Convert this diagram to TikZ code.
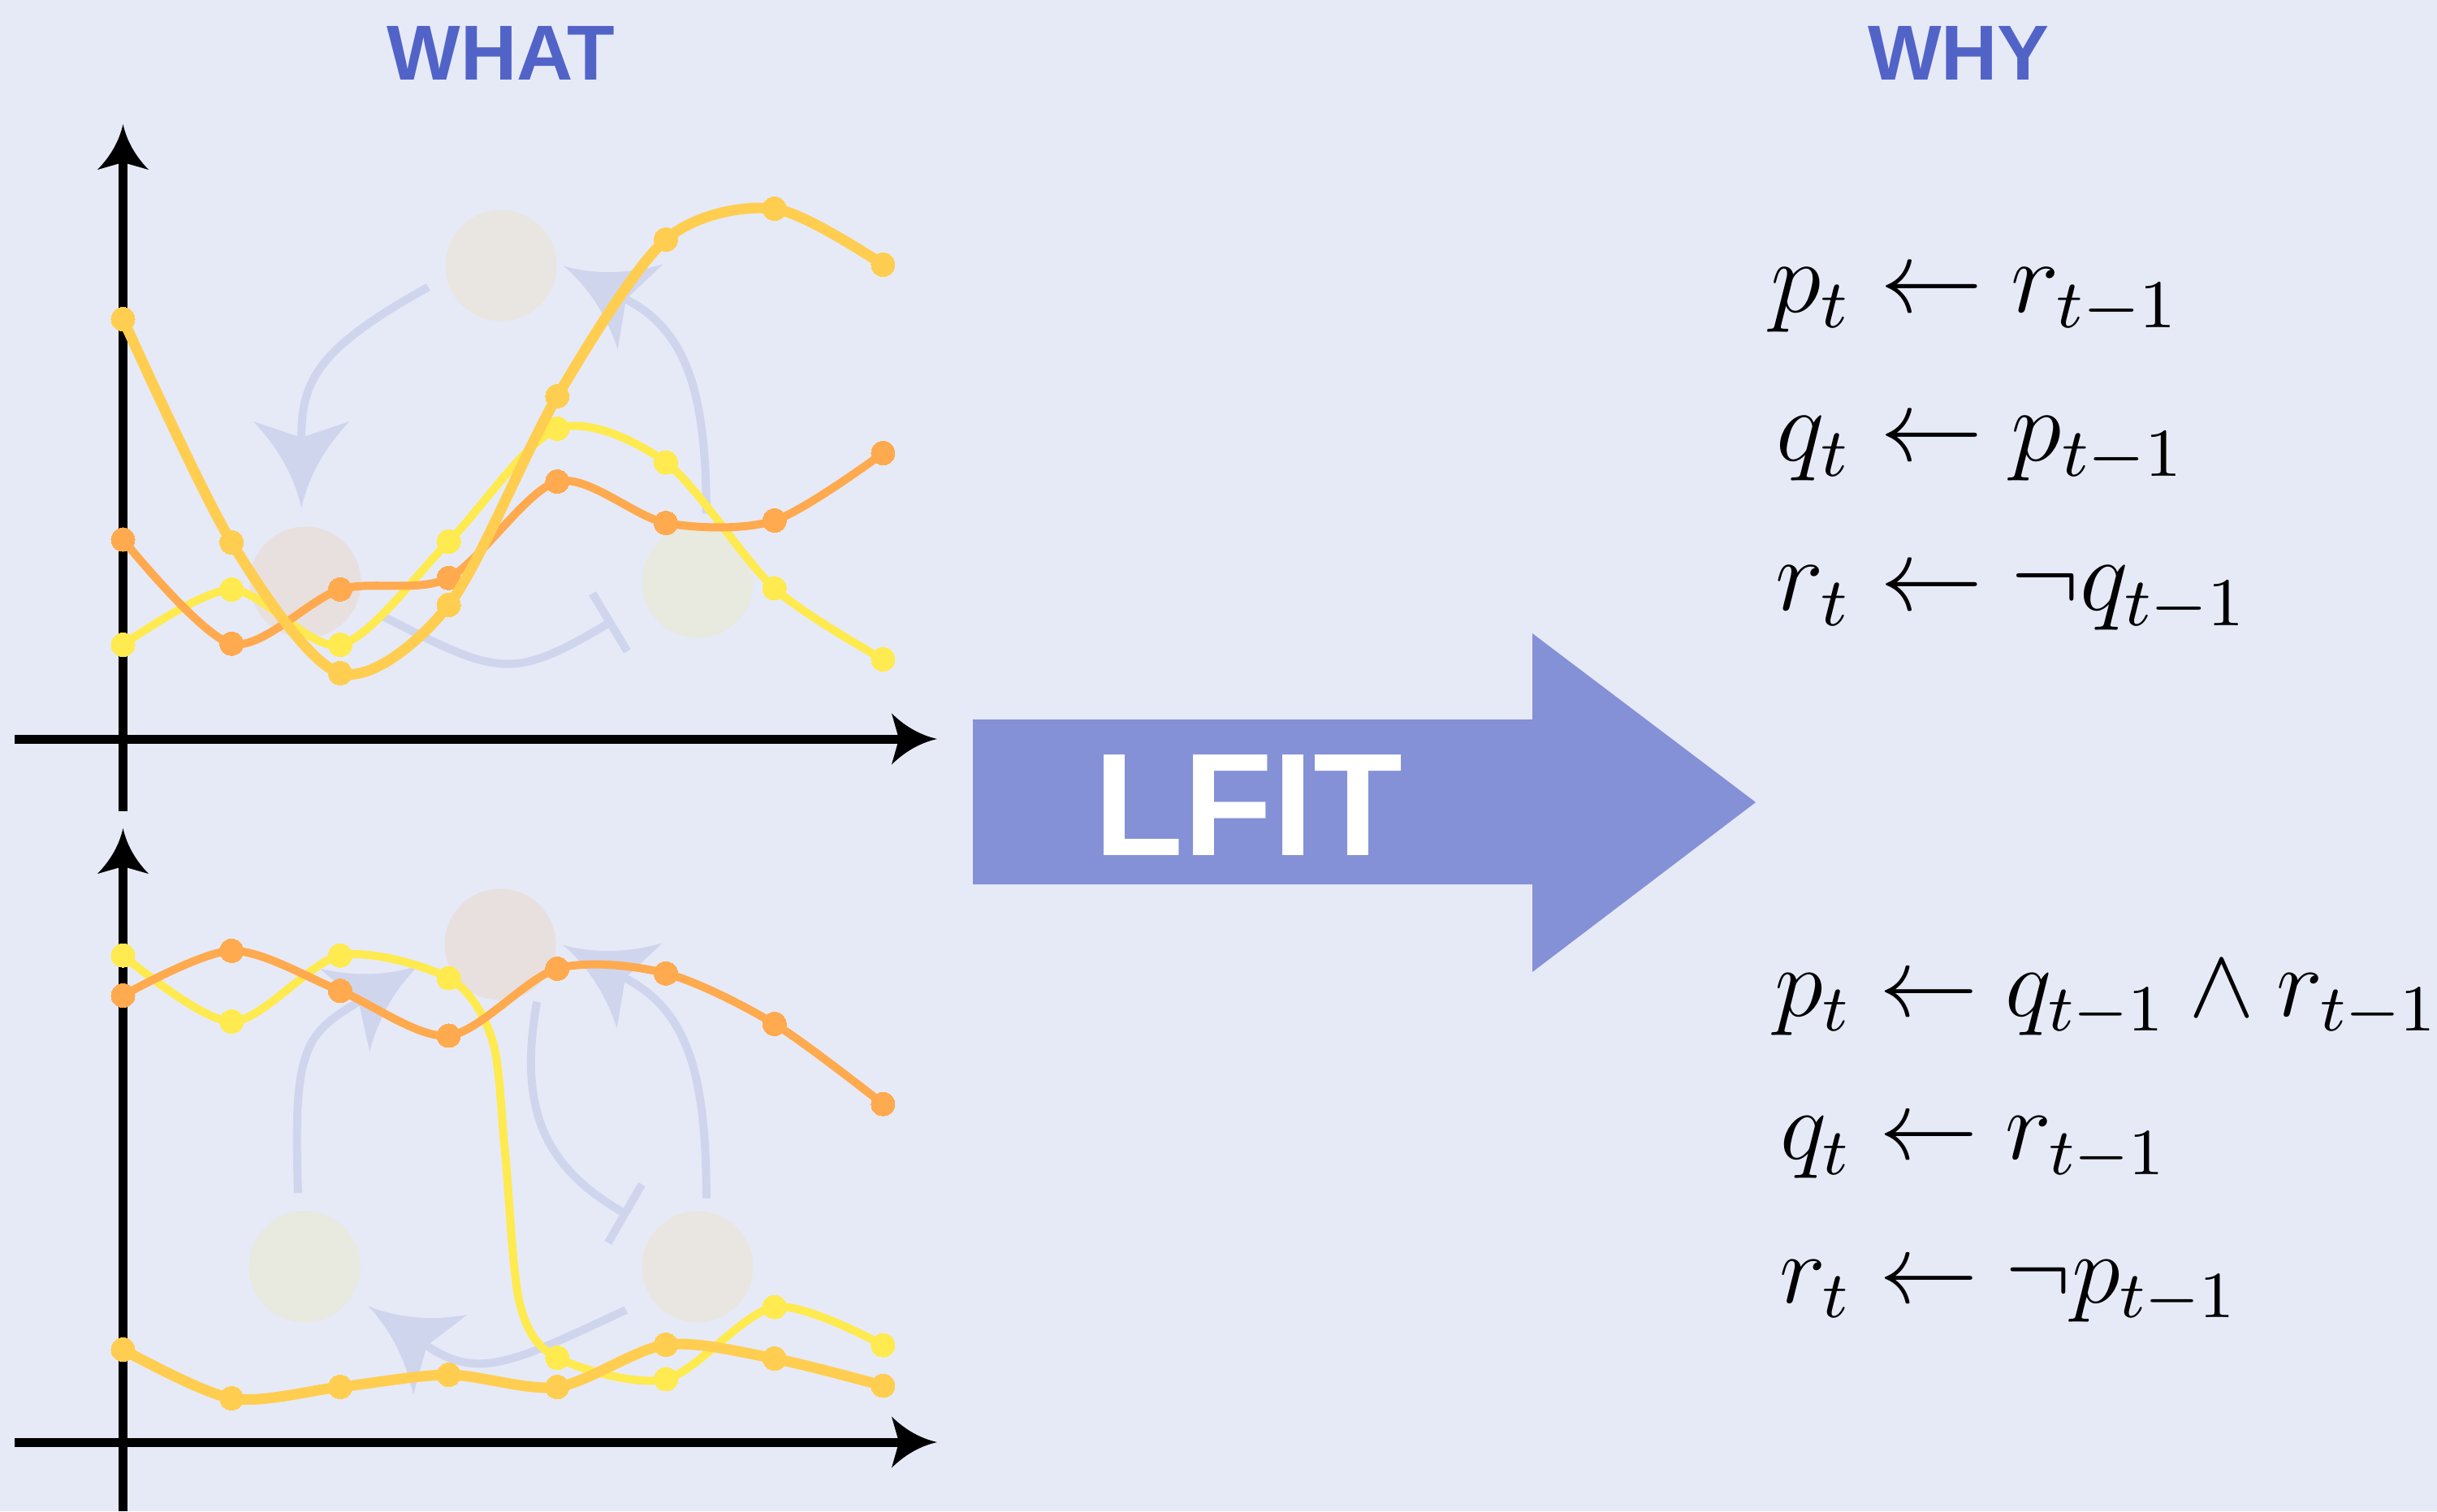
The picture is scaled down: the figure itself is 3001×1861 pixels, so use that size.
\documentclass[tikz,border=0pt]{standalone}
\usepackage{amsmath}
\usepackage{fontspec}
\newfontfamily\headfont{Liberation Sans}
\usetikzlibrary{arrows.meta}

\definecolor{bgblue}{HTML}{E6EAF7}
\definecolor{netblue}{HTML}{D0D5EE}
\definecolor{lfitblue}{HTML}{8491D6}
\definecolor{titleblue}{HTML}{5263C8}
\definecolor{goldc}{HTML}{FFCE50}
\definecolor{yellowc}{HTML}{FFEA4F}
\definecolor{orangec}{HTML}{FFAA4E}
\definecolor{pinkgene}{HTML}{E8E0DF}
\definecolor{beigegene}{HTML}{E9E6E1}
\definecolor{yellowgene}{HTML}{E8E9DF}

% stealth tip with hollow (curved) flanks
\newdimen\notchdim
\pgfdeclarearrow{
  name = CStealth,
  defaults = {length=3pt, width=3pt, inset=1pt},
  setup code = {
    \notchdim=\pgfarrowinset \advance\notchdim by -\pgfarrowlength
    \pgfarrowssettipend{0pt}
    \pgfarrowssetlineend{\notchdim}
    \pgfarrowssetbackend{-\pgfarrowlength}
    \pgfarrowssavethe\pgfarrowlength
    \pgfarrowssavethe\pgfarrowwidth
    \pgfarrowssavethe\pgfarrowinset
  },
  drawing code = {
    \notchdim=\pgfarrowinset \advance\notchdim by -\pgfarrowlength
    \pgfpathmoveto{\pgfqpoint{0pt}{0pt}}
    \pgfpathquadraticcurveto{\pgfqpoint{-.55\pgfarrowlength}{.11\pgfarrowwidth}}{\pgfqpoint{-\pgfarrowlength}{.5\pgfarrowwidth}}
    \pgfpathlineto{\pgfqpoint{\notchdim}{0pt}}
    \pgfpathlineto{\pgfqpoint{-\pgfarrowlength}{-.5\pgfarrowwidth}}
    \pgfpathquadraticcurveto{\pgfqpoint{-.55\pgfarrowlength}{-.11\pgfarrowwidth}}{\pgfqpoint{0pt}{0pt}}
    \pgfpathclose
    \pgfusepathqfill
  },
  parameters = {\the\pgfarrowlength,\the\pgfarrowwidth,\the\pgfarrowinset},
}

\begin{document}
\begin{tikzpicture}[x=0.01cm,y=-0.01cm,
    heading/.style={font=\headfont\bfseries\fontsize{27.3}{30}\selectfont,text=titleblue,inner sep=0pt,anchor=base},
    axisline/.style={line width=0.11cm,-{CStealth[length=0.56cm,width=0.63cm,inset=0.09cm]}},
    gene/.style={circle,minimum size=1.37cm,inner sep=0pt},
    act/.style={netblue,line width=0.1cm,-{CStealth[length=1.07cm,width=1.19cm,inset=0.2cm]}},
    inh/.style={netblue,line width=0.1cm,-{Bar[width=0.83cm]}},
    series/.style={line width=#1,mark=*,mark size=0.145cm,mark options={line width=0pt}},
    rules/.style={font=\fontsize{12}{14.4}\selectfont,scale=#1,inner sep=0pt,anchor=base west}]
  \useasboundingbox (0,0) rectangle (3001,1861);
  \fill[bgblue] (0,0) rectangle (3001,1861);

  % titles
  \node[heading] (what) at (617,99) {WHAT};
  \node[heading] (why) at (2412,99) {WHY};

  % top trajectory: network in the back
  \node[gene,fill=beigegene] (tA) at (617,327) {};
  \node[gene,fill=pinkgene] (tB) at (376,717) {};
  \node[gene,fill=yellowgene] (tC) at (859,717) {};
  \draw[act,shorten <=0.25cm,shorten >=0.22cm] (tA.192) to[out=209,in=90,looseness=1.3] (tB.94);
  \draw[act,shorten <=0.16cm,shorten >=0.09cm] (tC.81) to[out=90,in=-28,looseness=1.2] (tA.3);
  \draw[inh,shorten <=0.3cm,shorten >=0.45cm] (tB.-22) to[out=-27,in=211,looseness=1.4] (tC.200);

  \draw[axisline] (18,910) -- (1154,910);
  \draw[axisline] (151.5,999) -- (151.5,153);

  \draw[yellowc,series=0.1cm] plot[smooth] coordinates {(151.5,794) (285.2,726) (418.9,794) (552.6,667) (686.3,528) (820,569.5) (953.7,724.5) (1087.4,812)};
  \draw[orangec,series=0.1cm] plot[smooth] coordinates {(151.5,664.5) (285.2,792.7) (418.9,725.8) (552.6,711.7) (686.3,593) (820,644) (953.7,641) (1087.4,558)};
  \draw[goldc,series=0.13cm] plot[smooth] coordinates {(151.5,393) (285.2,668) (418.9,829) (552.6,745) (686.3,488) (820,295) (953.7,257) (1087.4,326)};

  % bottom trajectory
  \node[gene,fill=pinkgene] (bA) at (616,1163) {};
  \node[gene,fill=yellowgene] (bB) at (375,1560) {};
  \node[gene,fill=beigegene] (bC) at (859,1560) {};
  \draw[act,shorten <=0.22cm,shorten >=0.36cm] (bB.96) to[out=92,in=211,looseness=1.4] (bA.186);
  \draw[act,shorten <=0.16cm,shorten >=0.09cm] (bC.81) to[out=90,in=-28,looseness=1.2] (bA.3);
  \draw[inh,shorten <=0.22cm,shorten >=0.37cm] (bA.-45) to[out=-100,in=150,looseness=1.2] (bC.140);
  \draw[act,shorten <=0.34cm,shorten >=0.23cm] (bC.214.5) to[out=205,in=-34,looseness=1.3] (bB.-31.6);

  \draw[axisline] (18,1776) -- (1154,1776);
  \draw[axisline] (151.5,1861) -- (151.5,1020);

  \draw[yellowc,series=0.1cm,mark indices={1,2,3,4,8,9,10,11}] plot[smooth] coordinates {(151.5,1176.6) (285.2,1258) (418.9,1176.6) (552.6,1204.5) (606,1280) (622,1420) (640,1605) (686.3,1672) (820,1698.4) (953.7,1609.5) (1087.4,1656.6)};
  \draw[orangec,series=0.1cm] plot[smooth] coordinates {(151.5,1226) (285.2,1170.8) (418.9,1220.2) (552.6,1275.4) (686.3,1192.9) (820,1198.7) (953.7,1260.9) (1087.4,1359.6)};
  \draw[goldc,series=0.13cm] plot[smooth] coordinates {(151.5,1662) (285.2,1722) (418.9,1708) (552.6,1693) (686.3,1708) (820,1656) (953.7,1673) (1087.4,1706.5)};

  % the learning step
  \fill[lfitblue] (1198,886) -- (1887,886) -- (1887,780) -- (2162,988) -- (1887,1197) -- (1887,1089) -- (1198,1089) -- cycle;
  \node[font=\headfont\bfseries\fontsize{51.2}{56}\selectfont,text=white,inner sep=0pt,anchor=base] (lfit) at (1537,1053) {LFIT};

  % learned programs
  \node[rules=3] (progTop) at (2178,569) {$\begin{aligned}
      p_t &\leftarrow r_{t-1}\\
      q_t &\leftarrow p_{t-1}\\
      r_t &\leftarrow \neg q_{t-1}
    \end{aligned}$};
  \node[rules=2.88] (progBot) at (2183,1429) {$\begin{aligned}
      p_t &\leftarrow q_{t-1} \wedge r_{t-1}\\
      q_t &\leftarrow r_{t-1}\\
      r_t &\leftarrow \neg p_{t-1}
    \end{aligned}$};
\end{tikzpicture}
\end{document}
